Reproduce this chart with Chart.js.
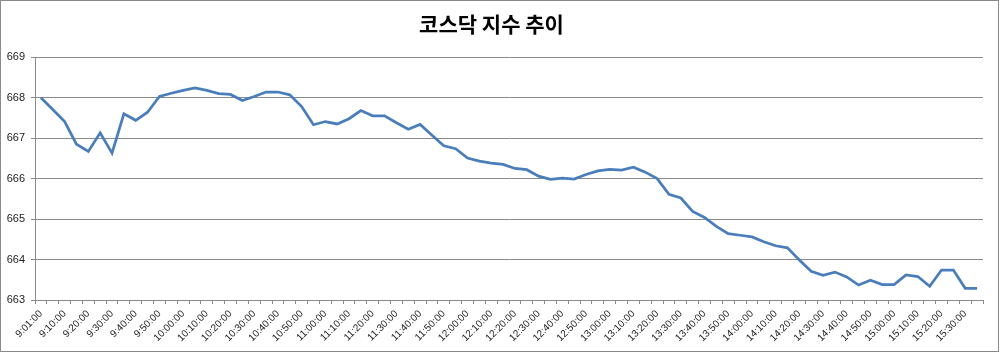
<!DOCTYPE html>
<html lang="ko">
<head>
<meta charset="utf-8">
<title>코스닥 지수 추이</title>
<script src="https://cdn.jsdelivr.net/npm/chart.js@4.4.1/dist/chart.umd.min.js"></script>
<style>
    html, body { margin: 0; padding: 0; background: #ffffff; }
    #chart-box { position: relative; width: 1000px; height: 353px; }
</style>
</head>
<body>
<div id="chart-box">
    <canvas id="kosdaq-chart" width="1000" height="353"></canvas>
</div>
<script>
// Chart title
const chartTitle = '코스닥 지수 추이';

// Time categories (every other one is labelled on the axis)
const times = [
    '9:01:00', '9:05:00', '9:10:00', '9:15:00', '9:20:00', '9:25:00',
    '9:30:00', '9:35:00', '9:40:00', '9:45:00', '9:50:00', '9:55:00',
    '10:00:00', '10:05:00', '10:10:00', '10:15:00', '10:20:00', '10:25:00',
    '10:30:00', '10:35:00', '10:40:00', '10:45:00', '10:50:00', '10:55:00',
    '11:00:00', '11:05:00', '11:10:00', '11:15:00', '11:20:00', '11:25:00',
    '11:30:00', '11:35:00', '11:40:00', '11:45:00', '11:50:00', '11:55:00',
    '12:00:00', '12:05:00', '12:10:00', '12:15:00', '12:20:00', '12:25:00',
    '12:30:00', '12:35:00', '12:40:00', '12:45:00', '12:50:00', '12:55:00',
    '13:00:00', '13:05:00', '13:10:00', '13:15:00', '13:20:00', '13:25:00',
    '13:30:00', '13:35:00', '13:40:00', '13:45:00', '13:50:00', '13:55:00',
    '14:00:00', '14:05:00', '14:10:00', '14:15:00', '14:20:00', '14:25:00',
    '14:30:00', '14:35:00', '14:40:00', '14:45:00', '14:50:00', '14:55:00',
    '15:00:00', '15:05:00', '15:10:00', '15:15:00', '15:20:00', '15:25:00',
    '15:30:00', '15:35:00'
];

// KOSDAQ index values
const indexValues = [
    668.00, 667.71, 667.41, 666.85, 666.67, 667.13, 666.63, 667.60, 667.44, 667.64,
    668.03, 668.11, 668.18, 668.24, 668.18, 668.10, 668.08, 667.93, 668.03, 668.14,
    668.14, 668.07, 667.78, 667.33, 667.41, 667.35, 667.48, 667.68, 667.55, 667.55,
    667.38, 667.22, 667.34, 667.07, 666.81, 666.74, 666.51, 666.43, 666.38, 666.35,
    666.25, 666.22, 666.06, 665.98, 666.01, 665.99, 666.10, 666.19, 666.23, 666.21,
    666.28, 666.16, 666.00, 665.61, 665.52, 665.19, 665.04, 664.82, 664.64, 664.60,
    664.56, 664.44, 664.34, 664.29, 663.99, 663.71, 663.61, 663.69, 663.57, 663.37,
    663.49, 663.38, 663.38, 663.62, 663.58, 663.34, 663.74, 663.74, 663.29, 663.29
];

// Y axis range
const yMin = 663;
const yMax = 669;
const yStep = 1;

// Draws the grey frame around the whole chart, like the Excel chart area
const framePlugin = {
    id: 'frame',
    afterDraw(chart) {
        const ctx = chart.ctx;
        ctx.save();
        ctx.strokeStyle = '#8a8a8a';
        ctx.lineWidth = 1;
        ctx.strokeRect(0.5, 0.5, chart.width - 2, chart.height - 2);
        ctx.restore();
    }
};

const config = {
    type: 'line',
    data: {
        labels: times,
        datasets: [{
            label: chartTitle,
            data: indexValues,
            borderColor: '#4a7ebb',
            borderWidth: 2.75,
            pointRadius: 0,
            tension: 0,
            fill: false
        }]
    },
    options: {
        responsive: false,
        animation: false,
        layout: {
            padding: { left: 0, right: 17, top: 0, bottom: 0 }
        },
        plugins: {
            legend: { display: false },
            tooltip: { enabled: false },
            title: {
                display: true,
                text: chartTitle,
                color: '#000000',
                font: { family: '"Noto Sans CJK KR", sans-serif', size: 21, weight: 'bold' },
                padding: { top: 11, bottom: 21 }
            }
        },
        scales: {
            x: {
                type: 'category',
                offset: true,
                grid: {
                    offset: true,
                    drawOnChartArea: false,
                    drawTicks: true,
                    tickLength: 4,
                    color: '#8a8a8a'
                },
                border: { display: true, color: '#8a8a8a' },
                ticks: {
                    autoSkip: false,
                    minRotation: 45,
                    maxRotation: 45,
                    padding: 4,
                    color: '#222222',
                    font: { family: '"Liberation Sans", Arial, sans-serif', size: 10 },
                    callback: function (value, index) {
                        // only every second time is shown
                        return index % 2 === 0 ? this.getLabelForValue(value) : '';
                    }
                },
                afterFit: function (scale) {
                    scale.height = 53;
                }
            },
            y: {
                min: yMin,
                max: yMax,
                grid: {
                    drawTicks: true,
                    tickLength: 4,
                    color: '#8a8a8a'
                },
                border: { display: true, color: '#8a8a8a' },
                ticks: {
                    stepSize: yStep,
                    padding: 6,
                    color: '#222222',
                    font: { family: '"Liberation Sans", Arial, sans-serif', size: 11 }
                },
                afterFit: function (scale) {
                    scale.width = 35;
                }
            }
        }
    },
    plugins: [framePlugin]
};

const ctx = document.getElementById('kosdaq-chart').getContext('2d');
const kosdaqChart = new Chart(ctx, config);
</script>
</body>
</html>
